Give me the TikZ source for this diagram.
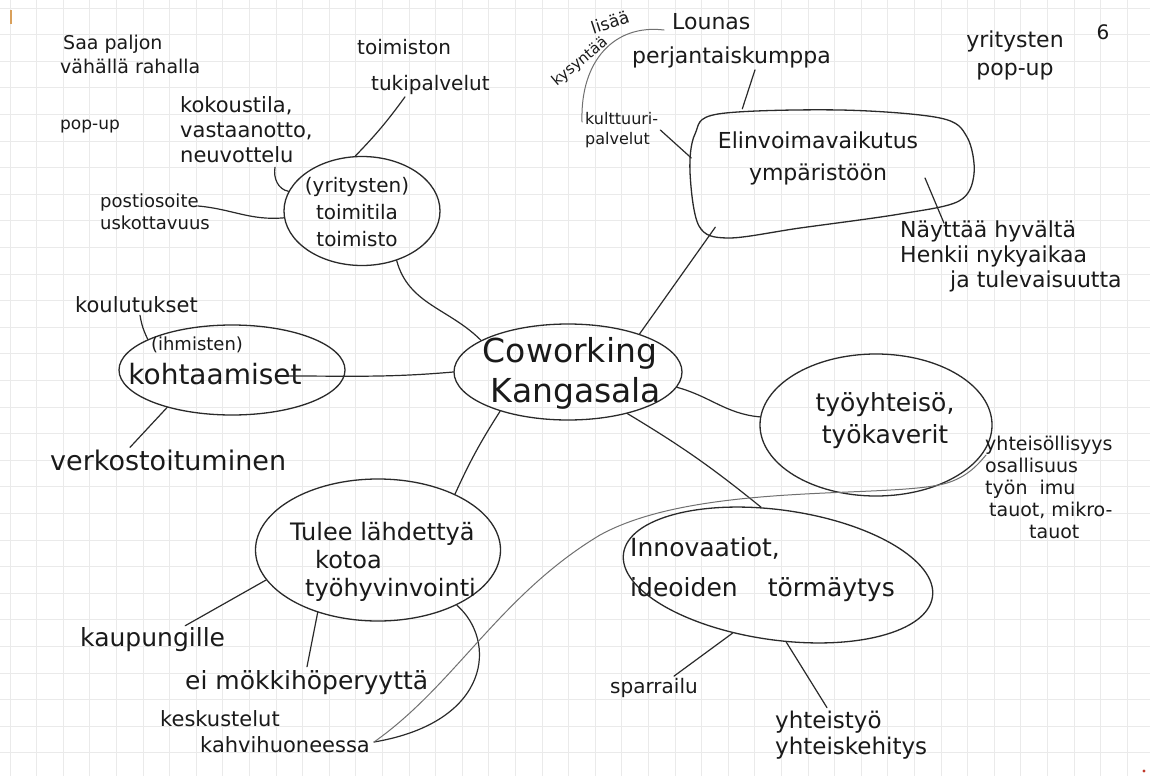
\documentclass[tikz,border=0pt]{standalone}
\usepackage{fontspec}
\setmainfont{DejaVu Sans}
\usetikzlibrary{shapes.geometric,calc}
\definecolor{inkc}{HTML}{2A2A2A}
\definecolor{txtc}{HTML}{1A1A1A}
\definecolor{gridc}{HTML}{EAEAEA}
\definecolor{faintc}{HTML}{707070}
\definecolor{tickc}{HTML}{D9A05B}
\definecolor{dotc}{HTML}{C0392B}

\begin{document}
\begin{tikzpicture}[x=1pt,y=-1pt,
  wire/.style={draw=inkc, line width=1.2pt, line cap=round},
  faint/.style={draw=faintc, line width=1pt, line cap=round},
  bub/.style={ellipse, draw=inkc, line width=1.3pt, inner sep=0pt},
  lab/.style 2 args={text=txtc, inner sep=0pt, align=left, font=\fontsize{#1}{#2}\selectfont},
]
% paper and grid
\fill[white] (0,0) rectangle (1150,776);
\useasboundingbox (0,0) rectangle (1150,776);
\foreach \gx in {10,36.6,...,1150} \draw[gridc, line width=0.7pt] (\gx,0) -- (\gx,776);
\foreach \gy in {8,34.6,...,776} \draw[gridc, line width=0.7pt] (0,\gy) -- (1150,\gy);
\draw[tickc, line width=1.6pt] (11,10) -- (11,24);
\fill[dotc] (1144,771) circle (1.6);

% central bubble
\node[bub, minimum width=228, minimum height=96] (cw) at (568,372) {};
\node[lab={33}{40}] (cwx) at (572,373) {Coworking\\\hspace*{8pt}Kangasala};

% branch bubbles
\node[bub, minimum width=156, minimum height=109] (tt) at (362,211) {};
\node[lab={20}{27}, align=center] (ttx) at (357,212) {(yritysten)\\toimitila\\toimisto};

\node[bub, minimum width=226, minimum height=90] (ko) at (232,370) {};
\node[lab={18}{22}] (kox1) at (197,345) {(ihmisten)};
\node[lab={28}{30}] (kox2) at (215,374) {kohtaamiset};

% the vitality bubble is a hand-drawn rounded blob; the node carries its anchors
\node[inner sep=0pt, minimum width=287, minimum height=120] (ev) at (831,170) {};
\draw[inkc, line width=1.3pt] plot[smooth cycle, tension=0.55] coordinates
  {(690,172) (695,134) (718,114) (840,110) (940,118) (967,137) (974,174) (959,201)
   (900,214) (800,228) (728,238) (699,226)};
\node[lab={22}{32}, align=center] (evx) at (818,158) {Elinvoimavaikutus\\ympäristöön};

\node[bub, minimum width=232, minimum height=142] (ty) at (876,425) {};
\node[lab={25}{32}, align=center] (tyx) at (885,421) {työyhteisö,\\työkaverit};

\node[bub, minimum width=312, minimum height=130, rotate=-8] (in) at (778,575) {};
\node[lab={25}{40}, anchor=west] (inx) at (630,570) {Innovaatiot,\\ideoiden\hspace{30pt}törmäytys};

\node[bub, minimum width=245, minimum height=142] (tu) at (378,550) {};
\node[lab={24}{28}, anchor=west] (tux) at (290,562) {Tulee lähdettyä\\\hspace*{25pt}kotoa\\\hspace*{15pt}työhyvinvointi};

% free notes
\node[lab={19}{24}, anchor=west] (saa) at (60,54) {\hspace*{3pt}Saa paljon\\vähällä rahalla};
\node[lab={17}{20}, anchor=west] (pop) at (60,127) {pop-up};
\node[lab={21}{25}, anchor=west] (koko) at (180,130) {kokoustila,\\vastaanotto,\\neuvottelu};
\node[lab={20}{36}, anchor=west] (tuki) at (357,67) {toimiston\\\hspace*{14pt}tukipalvelut};
\node[lab={18}{22}, anchor=west] (posti) at (100,212) {postiosoite\\uskottavuus};
\node[lab={21}{24}, anchor=west] (koul) at (75,305) {koulutukset};
\node[lab={27}{30}, anchor=west] (verk) at (50,460) {verkostoituminen};
\node[lab={17}{20}, rotate=18] (kysy1) at (610,22) {lisää};
\node[lab={15}{18}, rotate=40] (kysy2) at (580,62) {kysyntää};
\node[lab={22}{26}, anchor=west] (lounas) at (672,22) {Lounas};
\node[lab={22}{26}, anchor=west] (perj) at (632,57) {perjantaiskumppa};
\node[lab={16}{20}, anchor=west] (kult) at (585,130) {kulttuuri-\\palvelut};
\node[lab={22}{25}, anchor=west] (nay) at (900,256) {Näyttää hyvältä\\Henkii nykyaikaa\\\hspace*{50pt}ja tulevaisuutta};
\node[lab={22}{28}, align=center] (yrp) at (1015,55) {yritysten\\pop-up};
\node[lab={20}{24}] (six) at (1103,32) {6};
\node[lab={19}{22}, anchor=west] (yht) at (985,487) {yhteisöllisyys\\osallisuus\\työn\hspace{12pt}imu\\\hspace*{4pt}tauot, mikro-\\\hspace*{44pt}tauot};
\node[lab={20}{24}, anchor=west] (spar) at (610,688) {sparrailu};
\node[lab={23}{26}, anchor=west] (yhtt) at (775,735) {yhteistyö\\yhteiskehitys};
\node[lab={25}{28}, anchor=west] (kaup) at (80,640) {kaupungille};
\node[lab={25}{28}, anchor=west] (mokki) at (185,683) {ei mökkihöperyyttä};
\node[lab={21}{26}, anchor=west] (kesk) at (160,732) {keskustelut\\\hspace*{40pt}kahvihuoneessa};

% spokes from the centre
\draw[wire] (tt.-55) to[out=-75,in=135] (cw.160);
\draw[wire] ($(kox2.east)+(-15,2)$) to[out=0,in=185] (cw.180);
\draw[wire] (cw.28) -- ($(ev.south west)+(28,-3)$);
\draw[wire] (cw.-8) to[out=-15,in=175] (ty.176);
\draw[wire] (cw.-35) to[bend left=4] (in.112);
\draw[wire] (cw.-150) to[bend right=4] (tu.36);

% toimitila notes
\draw[wire] ($(tuki.south west)+(48,2)$) to[bend left=4] (tt.97);
\draw[wire] ($(koko.south west)+(95,4)$) to[out=-100,in=170] (tt.165);
\draw[wire] ($(posti.east)+(-12,-6)$) to[out=-5,in=185] (tt.185);

% kohtaamiset notes
\draw[wire] ($(koul.south west)+(65,2)$) to[bend right=8] (ko.160);
\draw[wire] (ko.-150) -- ($(verk.north west)+(80,-2)$);

% elinvoima notes
\draw[wire] ($(perj.south west)+(123,2)$) -- ($(ev.north west)+(55,-1)$);
\draw[wire] ($(kult.north east)+(2,18)$) -- ($(ev.west)+(4,-12)$);
\draw[wire] ($(ev.center)+(94,8)$) -- ($(nay.north west)+(44,3)$);
\draw[faint] ($(lounas.west)+(-8,8)$) .. controls (615,24) and (580,60) .. ($(kult.west)+(-3,-8)$);

% innovaatiot notes
\draw[wire] (in.-120) -- ($(spar.north west)+(64,-2)$);
\draw[wire] (in.-75) -- ($(yhtt.north west)+(52,-3)$);

% tulee notes
\draw[wire] (tu.-165) -- ($(kaup.north east)+(-40,-2)$);
\draw[wire] (tu.-134) -- ($(mokki.north west)+(122,-4)$);
\draw[wire] (tu.-35) .. controls (497,640) and (492,722) .. ($(kesk.east)+(4,10)$);
\draw[faint] ($(kesk.east)+(4,10)$) .. controls (455,685) and (500,595) .. (600,535)
  .. controls (700,480) and (900,500) .. (950,482)
  .. controls (970,475) and (980,462) .. ($(yht.west)+(1,-32)$);
\end{tikzpicture}
\end{document}
